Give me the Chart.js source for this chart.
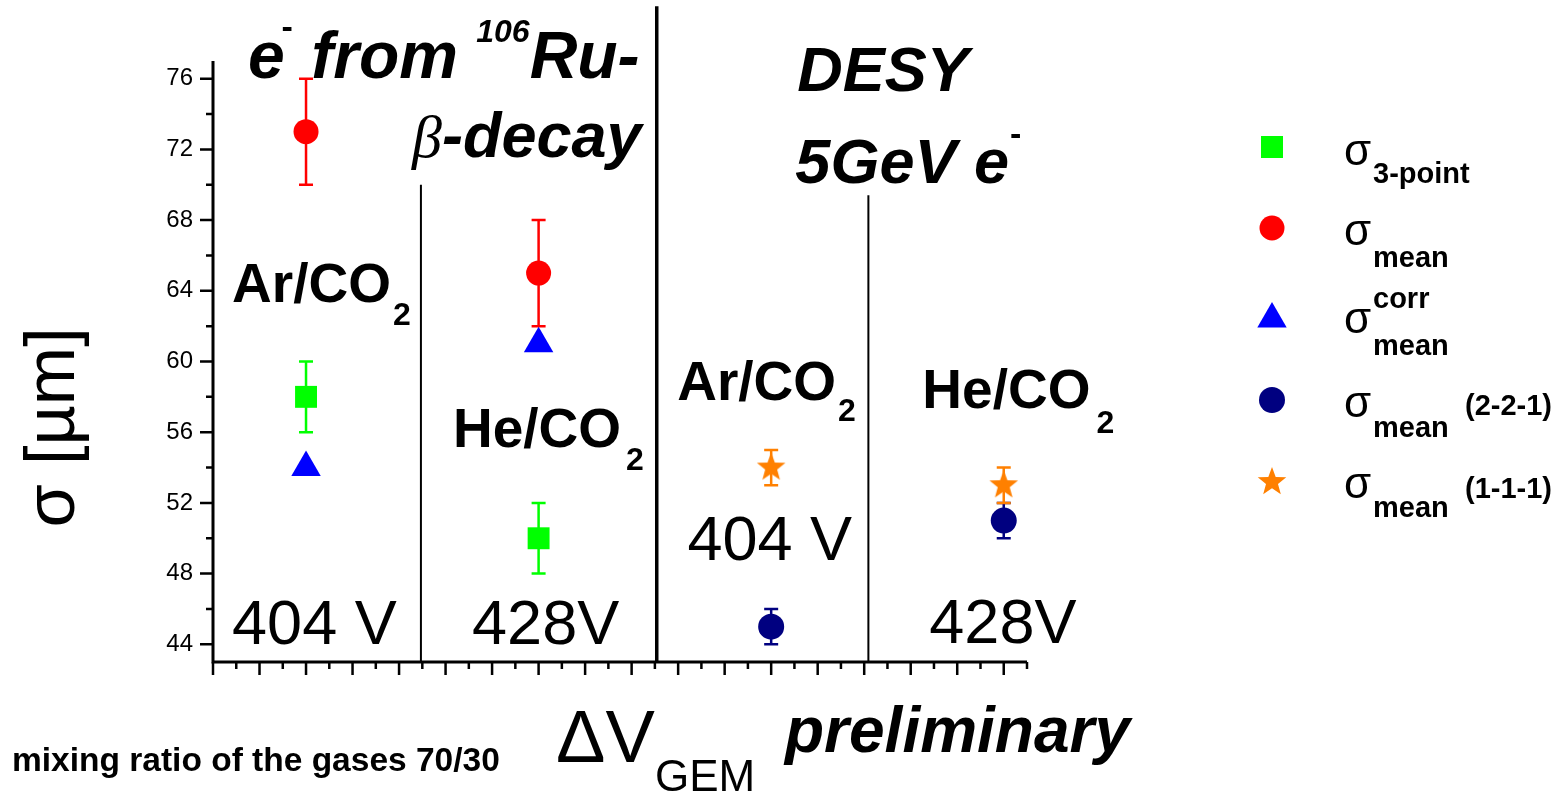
<!DOCTYPE html>
<html>
<head>
<meta charset="utf-8">
<script src="https://cdn.jsdelivr.net/npm/chart.js@4.4.1/dist/chart.umd.min.js"></script>
<style>
  html, body { margin: 0; padding: 0; background: #fff; }
  #wrap { width: 1564px; height: 795px; position: relative; }
</style>
</head>
<body>
<div id="wrap"><canvas id="c"></canvas></div>
<script>
// Spatial resolution of a GEM-TPC: Ru-106 beta source runs and DESY 5 GeV e- test beam runs
const xSource = [2, 7];          // Ar/CO2 @ 404 V, He/CO2 @ 428 V (Ru-106)
const xDesy = [12, 17];          // Ar/CO2 @ 404 V, He/CO2 @ 428 V (DESY)
const sigma3Point = [58, 50];
const sigma3PointErr = [2, 2];
const sigmaMean = [73, 65];
const sigmaMeanErr = [3, 3];
const sigmaMeanCorr = [54, 61];
const sigmaMean221 = [45, 51];
const sigmaMean221Err = [1, 1];
const sigmaMean111 = [54, 53];
const sigmaMean111Err = [1, 1];
const yTickLabels = [44, 48, 52, 56, 60, 64, 68, 72, 76];
const xMajorTicks = [0, 1, 2, 3, 4, 5, 6, 7, 8, 9, 10, 11, 12, 13, 14, 15, 16, 17];

const SANS = "'Liberation Sans', Arial, Helvetica, sans-serif";
const SERIF = "'Liberation Serif', 'Times New Roman', serif";

const COLORS = {
  green: '#00ff00',
  red: '#ff0000',
  blue: '#0000ff',
  navy: '#000080',
  orange: '#ff8000'
};

// filled five-pointed star used as a point style
function makeStar(R, color) {
  const s = Math.ceil(2 * R + 2);
  const c = document.createElement('canvas');
  c.width = s; c.height = s;
  const g = c.getContext('2d');
  g.fillStyle = color;
  g.beginPath();
  for (let i = 0; i < 10; i++) {
    const r = i % 2 ? R * 0.42 : R;
    const a = -Math.PI / 2 + i * Math.PI / 5;
    g.lineTo(s / 2 + r * Math.cos(a), s / 2 + r * Math.sin(a));
  }
  g.closePath();
  g.fill();
  return c;
}
const starImg = makeStar(15, COLORS.orange);

function pts(xs, ys) { return xs.map((x, i) => ({ x: x, y: ys[i] })); }

// draws a run of text pieces (main text, sub- and superscripts) one after another
function rich(ctx, x, y, parts) {
  let cx = x;
  ctx.textAlign = 'left';
  ctx.textBaseline = 'alphabetic';
  for (const p of parts) {
    ctx.font = p.font;
    cx += p.dx || 0;
    ctx.fillText(p.t, cx, y + (p.dy || 0));
    cx += ctx.measureText(p.t).width;
  }
}

const BI = "bold italic 63px " + SANS;
const BI_TOP = "bold italic 66px " + SANS;
const GAS = "bold 55px " + SANS;
const GAS_SUB = "bold 32px " + SANS;
const VOLT = "63px " + SANS;

// in-plot annotations anchored in data coordinates
const annotations = [
  { x: 0.75, y: 76.05, parts: [
      { t: 'e', font: BI_TOP },
      { t: '-', font: "bold 34px " + SANS, dy: -40, dx: -3 },
      { t: ' from ', font: BI_TOP },
      { t: '106', font: "bold italic 32px " + SANS, dy: -36 },
      { t: 'Ru-', font: BI_TOP } ] },
  { x: 4.28, y: 71.58, parts: [
      { t: '\u03B2', font: "italic 60px " + SERIF },
      { t: '-decay', font: BI } ] },
  { x: 12.56, y: 75.32, parts: [ { t: 'DESY', font: BI } ] },
  { x: 12.52, y: 70.11, parts: [
      { t: '5GeV e', font: BI },
      { t: '-', font: "bold 34px " + SANS, dy: -38, dx: 1 } ] },
  { x: 0.41, y: 63.37, parts: [ { t: 'Ar/CO', font: GAS }, { t: '2', font: GAS_SUB, dy: 23, dx: 2 } ] },
  { x: 5.16, y: 55.16, parts: [ { t: 'He/CO', font: GAS }, { t: '2', font: GAS_SUB, dy: 23, dx: 5 } ] },
  { x: 9.98, y: 57.82, parts: [ { t: 'Ar/CO', font: GAS }, { t: '2', font: GAS_SUB, dy: 21, dx: 2 } ] },
  { x: 15.25, y: 57.37, parts: [ { t: 'He/CO', font: GAS }, { t: '2', font: GAS_SUB, dy: 25, dx: 6 } ] },
  { x: 0.41, y: 44.0, parts: [ { t: '404 V', font: VOLT } ] },
  { x: 5.57, y: 44.0, parts: [ { t: '428V', font: VOLT } ] },
  { x: 10.2, y: 48.76, parts: [ { t: '404 V', font: VOLT } ] },
  { x: 15.4, y: 44.05, parts: [ { t: '428V', font: VOLT } ] }
];

// vertical separators between the measurement groups
const separators = [
  { x: 4.47, top: 70.0, width: 2 },
  { x: 9.54, top: 80.1, width: 3.5 },
  { x: 14.09, top: 69.4, width: 2 }
];

const errorBarPlugin = {
  id: 'errorBars',
  beforeDatasetsDraw(chart) {
    const ctx = chart.ctx;
    const ys = chart.scales.y;
    chart.data.datasets.forEach((ds, di) => {
      if (!ds.errors) return;
      const meta = chart.getDatasetMeta(di);
      meta.data.forEach((el, i) => {
        const v = ds.data[i].y, e = ds.errors[i];
        const yTop = ys.getPixelForValue(v + e);
        const yBot = ys.getPixelForValue(v - e);
        ctx.save();
        ctx.strokeStyle = ds.pointBackgroundColor;
        ctx.lineWidth = 2.5;
        ctx.beginPath();
        ctx.moveTo(el.x, yTop); ctx.lineTo(el.x, yBot);
        ctx.moveTo(el.x - 7, yTop); ctx.lineTo(el.x + 7, yTop);
        ctx.moveTo(el.x - 7, yBot); ctx.lineTo(el.x + 7, yBot);
        ctx.stroke();
        ctx.restore();
      });
    });
  }
};

const framePlugin = {
  id: 'frame',
  beforeDatasetsDraw(chart) {
    const ctx = chart.ctx;
    const xs = chart.scales.x, ys = chart.scales.y;
    const a = chart.chartArea;
    ctx.save();
    ctx.strokeStyle = '#000';
    // separators
    separators.forEach(s => {
      const px = xs.getPixelForValue(s.x);
      ctx.lineWidth = s.width;
      ctx.beginPath();
      ctx.moveTo(px, ys.getPixelForValue(s.top));
      ctx.lineTo(px, a.bottom);
      ctx.stroke();
    });
    // axis lines
    ctx.lineWidth = 3;
    ctx.beginPath();
    ctx.moveTo(a.left, a.top);
    ctx.lineTo(a.left, a.bottom);
    ctx.lineTo(a.right, a.bottom);
    ctx.stroke();
    // y ticks: major at labelled values, minor halfway
    ctx.lineWidth = 2.5;
    ctx.beginPath();
    yTickLabels.forEach(v => {
      const py = ys.getPixelForValue(v);
      ctx.moveTo(a.left, py); ctx.lineTo(a.left - 13, py);
      const pm = ys.getPixelForValue(v + 2);
      if (v + 2 < ys.max) { ctx.moveTo(a.left, pm); ctx.lineTo(a.left - 7, pm); }
    });
    // x ticks: major at integers, minor at halves
    xMajorTicks.forEach(v => {
      const px = xs.getPixelForValue(v);
      ctx.moveTo(px, a.bottom); ctx.lineTo(px, a.bottom + 13);
      const pm = xs.getPixelForValue(v + 0.5);
      if (v + 0.5 <= xs.max) { ctx.moveTo(pm, a.bottom); ctx.lineTo(pm, a.bottom + 7); }
    });
    ctx.stroke();
    ctx.restore();
  },
  afterDatasetsDraw(chart) {
    const ctx = chart.ctx;
    const xs = chart.scales.x, ys = chart.scales.y;
    ctx.save();
    ctx.fillStyle = '#000';
    annotations.forEach(an => {
      rich(ctx, xs.getPixelForValue(an.x), ys.getPixelForValue(an.y), an.parts);
    });
    ctx.restore();
  }
};

// text outside the plot: axis titles, notes and the legend
const outerTextPlugin = {
  id: 'outerText',
  afterDraw(chart) {
    const ctx = chart.ctx;
    const a = chart.chartArea;
    ctx.save();
    ctx.fillStyle = '#000';

    // y axis title
    ctx.save();
    ctx.translate(74, (a.top + a.bottom) / 2 + 66);
    ctx.rotate(-Math.PI / 2);
    ctx.textAlign = 'center';
    ctx.textBaseline = 'alphabetic';
    ctx.font = "70px " + SANS;
    ctx.fillText('\u03C3 [\u00B5m]', 0, 0);
    ctx.restore();

    // x axis title
    rich(ctx, 556, 762, [ { t: '\u0394V', font: "74px " + SANS } ]);
    rich(ctx, 655, 791, [ { t: 'GEM', font: "44px " + SANS } ]);
    rich(ctx, 785, 752, [ { t: 'preliminary', font: "bold italic 64px " + SANS } ]);
    rich(ctx, 12, 771, [ { t: 'mixing ratio of the gases 70/30', font: "bold 33.5px " + SANS } ]);

    // legend
    const lx = 1272;
    const rows = [147, 228, 319, 400, 482];
    ctx.fillStyle = COLORS.green;
    ctx.fillRect(lx - 11, rows[0] - 11, 22, 22);
    ctx.fillStyle = COLORS.red;
    ctx.beginPath(); ctx.arc(lx, rows[1], 12.5, 0, Math.PI * 2); ctx.fill();
    ctx.fillStyle = COLORS.blue;
    ctx.beginPath();
    ctx.moveTo(lx, rows[2] - 17);
    ctx.lineTo(lx + 14.7, rows[2] + 8.5);
    ctx.lineTo(lx - 14.7, rows[2] + 8.5);
    ctx.closePath(); ctx.fill();
    ctx.fillStyle = COLORS.navy;
    ctx.beginPath(); ctx.arc(lx, rows[3], 13, 0, Math.PI * 2); ctx.fill();
    ctx.drawImage(starImg, lx - starImg.width / 2, rows[4] - starImg.height / 2);

    ctx.fillStyle = '#000';
    const SIG = "44px " + SANS;
    const SUB = "bold 29px " + SANS;
    const sx = 1344, subx = 1373;
    rich(ctx, sx, 165, [ { t: '\u03C3', font: SIG } ]);
    rich(ctx, subx, 183, [ { t: '3-point', font: SUB } ]);
    rich(ctx, sx, 245, [ { t: '\u03C3', font: SIG } ]);
    rich(ctx, subx, 267, [ { t: 'mean', font: SUB } ]);
    rich(ctx, sx, 333, [ { t: '\u03C3', font: SIG } ]);
    rich(ctx, subx, 308, [ { t: 'corr', font: SUB } ]);
    rich(ctx, subx, 355, [ { t: 'mean', font: SUB } ]);
    rich(ctx, sx, 417, [ { t: '\u03C3', font: SIG } ]);
    rich(ctx, subx, 437, [ { t: 'mean', font: SUB } ]);
    rich(ctx, 1465, 415, [ { t: '(2-2-1)', font: SUB } ]);
    rich(ctx, sx, 498, [ { t: '\u03C3', font: SIG } ]);
    rich(ctx, subx, 517, [ { t: 'mean', font: SUB } ]);
    rich(ctx, 1465, 498, [ { t: '(1-1-1)', font: SUB } ]);
    ctx.restore();
  }
};

new Chart(document.getElementById('c'), {
  type: 'scatter',
  data: {
    datasets: [
      { label: 'sigma 3-point', data: pts(xSource, sigma3Point), errors: sigma3PointErr,
        pointStyle: 'rect', pointRadius: 15.5, pointBackgroundColor: COLORS.green, pointBorderWidth: 0 },
      { label: 'sigma mean', data: pts(xSource, sigmaMean), errors: sigmaMeanErr,
        pointStyle: 'circle', pointRadius: 12.5, pointBackgroundColor: COLORS.red, pointBorderWidth: 0 },
      { label: 'sigma mean corr', data: pts(xSource, sigmaMeanCorr),
        pointStyle: 'triangle', pointRadius: 17, pointBackgroundColor: COLORS.blue, pointBorderWidth: 0 },
      { label: 'sigma mean (2-2-1)', data: pts(xDesy, sigmaMean221), errors: sigmaMean221Err,
        pointStyle: 'circle', pointRadius: 13, pointBackgroundColor: COLORS.navy, pointBorderWidth: 0 },
      { label: 'sigma mean (1-1-1)', data: pts(xDesy, sigmaMean111), errors: sigmaMean111Err,
        pointStyle: starImg, pointRadius: 15, pointBackgroundColor: COLORS.orange, pointBorderWidth: 0 }
    ]
  },
  options: {
    responsive: true,
    maintainAspectRatio: false,
    animation: false,
    events: [],
    layout: { padding: { top: 61, right: 537, left: 0, bottom: 0 } },
    plugins: { legend: { display: false }, tooltip: { enabled: false } },
    scales: {
      x: {
        type: 'linear', min: 0, max: 17.5,
        afterFit: s => { s.height = 133; },
        afterBuildTicks: s => { s.ticks = xMajorTicks.map(v => ({ value: v })); },
        ticks: { display: false },
        grid: { display: false, drawTicks: false },
        border: { display: false }
      },
      y: {
        type: 'linear', min: 43, max: 77,
        afterFit: s => { s.width = 213; },
        afterBuildTicks: s => { s.ticks = yTickLabels.map(v => ({ value: v })); },
        ticks: { padding: 20, color: '#000', font: { family: SANS, size: 24 } },
        grid: { display: false, drawTicks: false },
        border: { display: false }
      }
    }
  },
  plugins: [framePlugin, errorBarPlugin, outerTextPlugin]
});
</script>
</body>
</html>
